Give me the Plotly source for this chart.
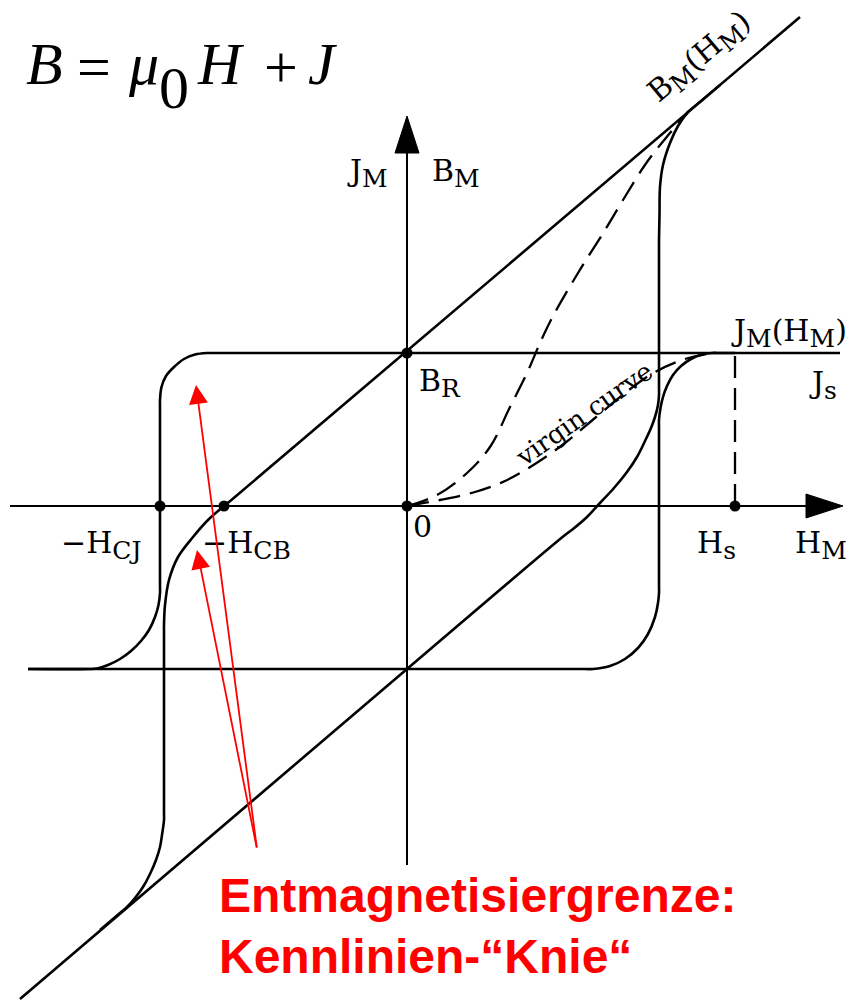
import plotly.graph_objects as go

# ------------------------------------------------------------------
# Idealised J(H) / B(H) hysteresis of a permanent magnet
# (one data unit = 100 px on the page, origin at the axis crossing)
# ------------------------------------------------------------------
J_S = 1.53          # upper saturation level J_s (= remanence B_R)
J_NEG = -1.63       # lower saturation level
H_CJ = -2.47        # coercive field of the J loop
H_CB = -1.83        # coercive field of the B loop
H_S = 3.28          # saturation field H_s

H_AXIS = [-3.97, 4.36]   # horizontal axis (tip of arrow at the end)
B_AXIS = [-3.59, 3.90]   # vertical axis

# J loop, descending branch (top line, left flank, lower left end)
J_DOWN_H = [4.33, -1.92, -2.00, -2.12, -2.23, -2.33, -2.41, -2.455, -2.47, -2.47,
            -2.47, -2.47, -2.485, -2.52, -2.58, -2.66, -2.76, -2.87, -2.99, -3.10,
            -3.18, -3.79]
J_DOWN_B = [1.53, 1.53, 1.53, 1.515, 1.47, 1.39, 1.30, 1.19, 1.06, 0.98,
            -0.79, -0.87, -0.99, -1.11, -1.24, -1.35, -1.45, -1.53, -1.59, -1.625,
            -1.63, -1.63]

# J loop, ascending branch (bottom line, right flank, knee into J_s)
J_UP_H = [-3.79, 1.78, 1.86, 2.03, 2.18, 2.31, 2.41, 2.48, 2.51, 2.52, 2.52,
          2.52, 2.52, 2.535, 2.56, 2.60, 2.66, 2.74, 2.84, 2.95, 3.05, 3.13, 3.28]
J_UP_B = [-1.63, -1.63, -1.63, -1.60, -1.53, -1.42, -1.28, -1.11, -0.97, -0.87, -0.79,
          0.78, 0.86, 0.98, 1.09, 1.20, 1.31, 1.40, 1.47, 1.515, 1.53, 1.53, 1.53]

# B loop, ascending branch (lower straight line, right flank, up to B_M)
B_UP_H = [-3.87, 0.00, 1.58, 1.66, 1.80, 1.93, 2.07, 2.20, 2.30, 2.38, 2.44, 2.48,
          2.51, 2.52, 2.52, 2.52, 2.52, 2.525, 2.53, 2.56, 2.63, 2.71, 2.81, 2.93, 3.13]
B_UP_B = [-4.93, -1.63, -0.29, -0.23, -0.11, 0.03, 0.18, 0.34, 0.49, 0.65, 0.78, 0.89,
          1.01, 1.11, 1.19, 2.56, 2.66, 2.91, 3.19, 3.41, 3.63, 3.80, 3.94, 4.04, 4.21]

# B loop, descending branch (upper straight line, knee, left flank)
B_DOWN_H = [3.93, -1.75, -1.83, -1.99, -2.14, -2.29, -2.38, -2.42, -2.43, -2.43,
            -2.43, -2.43, -2.45, -2.47, -2.51, -2.57, -2.64, -2.72, -2.80, -2.87, -3.07]
B_DOWN_B = [4.89, 0.065, 0.00, -0.14, -0.31, -0.51, -0.74, -0.99, -1.19, -1.27,
            -3.06, -3.14, -3.29, -3.41, -3.54, -3.68, -3.81, -3.92, -4.01, -4.07, -4.24]

# virgin curves (dashed)
B_VIRGIN_H = [0.00, 0.30, 0.60, 0.83, 1.03, 1.20, 1.33, 1.45, 1.71, 1.98, 2.16, 2.40, 2.63, 2.81]
B_VIRGIN_B = [0.00, 0.11, 0.33, 0.59, 0.99, 1.33, 1.63, 1.88, 2.33, 2.76, 3.06, 3.44, 3.73, 3.94]
J_VIRGIN_H = [0.00, 0.33, 0.68, 0.98, 1.28, 1.58, 1.88, 2.18, 2.48, 2.78, 3.05]
J_VIRGIN_B = [0.00, 0.06, 0.14, 0.25, 0.42, 0.63, 0.88, 1.13, 1.34, 1.47, 1.53]

# marked points on the axes
DOT_H = [0.0, 0.0, H_CJ, H_CB, H_S]
DOT_B = [J_S, 0.0, 0.0, 0.0, 0.0]

# "knee" pointers: common tail and the two tips
KNEE_TAIL = (-1.50, -3.43)
KNEE_TIPS = [(-2.11, 1.21), (-2.10, -0.44)]

BLACK = "#000000"
RED = "#ff0000"
LW = 2.6
DASH = "22px,10px"
LABEL_FONT = "DejaVu Serif"
SUB = "<sub><span style='font-size:25px'>{}</span></sub>"

fig = go.Figure()


def curve(h, b, dash=None, width=LW):
    fig.add_trace(go.Scatter(
        x=h, y=b, mode="lines",
        line=dict(color=BLACK, width=width, shape="spline", smoothing=1.0, dash=dash),
        hoverinfo="skip"))


# axes
fig.add_trace(go.Scatter(x=[H_AXIS[0], H_AXIS[1] - 0.36], y=[0, 0], mode="lines",
                         line=dict(color=BLACK, width=2), hoverinfo="skip"))
fig.add_trace(go.Scatter(x=[0, 0], y=[B_AXIS[0], B_AXIS[1] - 0.37], mode="lines",
                         line=dict(color=BLACK, width=2), hoverinfo="skip"))
# filled arrow heads at the axis ends
AH_LEN, AH_HALF = 0.37, 0.12
fig.add_trace(go.Scatter(
    x=[H_AXIS[1], H_AXIS[1] - AH_LEN, H_AXIS[1] - AH_LEN, H_AXIS[1]],
    y=[0, AH_HALF, -AH_HALF, 0], mode="lines", fill="toself",
    fillcolor=BLACK, line=dict(color=BLACK, width=1), hoverinfo="skip"))
fig.add_trace(go.Scatter(
    x=[0, AH_HALF, -AH_HALF, 0],
    y=[B_AXIS[1], B_AXIS[1] - AH_LEN, B_AXIS[1] - AH_LEN, B_AXIS[1]], mode="lines", fill="toself",
    fillcolor=BLACK, line=dict(color=BLACK, width=1), hoverinfo="skip"))

# loops
curve(J_DOWN_H, J_DOWN_B)
curve(J_UP_H, J_UP_B)
curve(B_UP_H, B_UP_B)
curve(B_DOWN_H, B_DOWN_B)

# virgin curves and H_s marker line
curve(B_VIRGIN_H, B_VIRGIN_B, dash=DASH, width=2.3)
curve(J_VIRGIN_H, J_VIRGIN_B, dash=DASH, width=2.3)
fig.add_trace(go.Scatter(x=[H_S, H_S], y=[0, J_S], mode="lines",
                         line=dict(color=BLACK, width=2.3, dash=DASH), hoverinfo="skip"))

# dots
fig.add_trace(go.Scatter(x=DOT_H, y=DOT_B, mode="markers",
                         marker=dict(color=BLACK, size=11), hoverinfo="skip"))


def pos(px, py):
    return (px - 407) / 100.0, (506 - py) / 100.0


annotations = []


def label(text, px, py, size=30, angle=0, family=LABEL_FONT, color=BLACK, xanchor="center"):
    x, y = pos(px, py)
    annotations.append(dict(x=x, y=y, xref="x", yref="y", text=text, showarrow=False,
                            textangle=angle, xanchor=xanchor, yanchor="middle",
                            font=dict(family=family, size=size, color=color)))


# formula B = mu0 H + J
FORMULA_FONT = "Liberation Serif"
for txt, cx, cy in [("<i>B</i>", 44, 64), ("=", 94, 67), ("<i>μ</i>", 143, 64),
                    ("0", 174, 88), ("<i>H</i>", 221, 64), ("+", 281, 67), ("<i>J</i>", 322, 64)]:
    label(txt, cx, cy, size=60, family=FORMULA_FONT)

# axis and point labels
label("J" + SUB.format("M"), 367, 173)
label("B" + SUB.format("M"), 456, 173)
label("B" + SUB.format("R"), 440, 383)
label("0", 422, 526)
label("−H" + SUB.format("CJ"), 101, 545)
label("−H" + SUB.format("CB"), 246, 545)
label("H" + SUB.format("s"), 716, 545)
label("H" + SUB.format("M"), 821, 545)
label("J" + SUB.format("M") + "(H" + SUB.format("M") + ")", 789, 333)
label("J" + SUB.format("s"), 823, 385)
label("B" + SUB.format("M") + "(H" + SUB.format("M") + ")", 700, 58, angle=-40)
label("virgin curve", 584, 414, size=26, angle=-35)

# red note with pointers to the knees
label("<b>Entmagnetisiergrenze:</b>", 217, 895, size=48, family="Liberation Sans",
      color=RED, xanchor="left")
label("<b>Kennlinien-“Knie“</b>", 217, 956, size=48, family="Liberation Sans",
      color=RED, xanchor="left")
for tip in KNEE_TIPS:
    annotations.append(dict(x=tip[0], y=tip[1], ax=KNEE_TAIL[0], ay=KNEE_TAIL[1],
                            xref="x", yref="y", axref="x", ayref="y", text="",
                            showarrow=True, arrowhead=2, arrowsize=2.1, arrowwidth=1.8,
                            arrowcolor=RED))

fig.update_layout(
    width=850, height=1000,
    margin=dict(l=0, r=0, t=0, b=0),
    paper_bgcolor="white", plot_bgcolor="white",
    showlegend=False,
    xaxis=dict(range=[-4.07, 4.43], visible=False, fixedrange=True),
    yaxis=dict(range=[-4.94, 5.06], visible=False, fixedrange=True),
    annotations=annotations,
)

fig.write_html("out.html")
